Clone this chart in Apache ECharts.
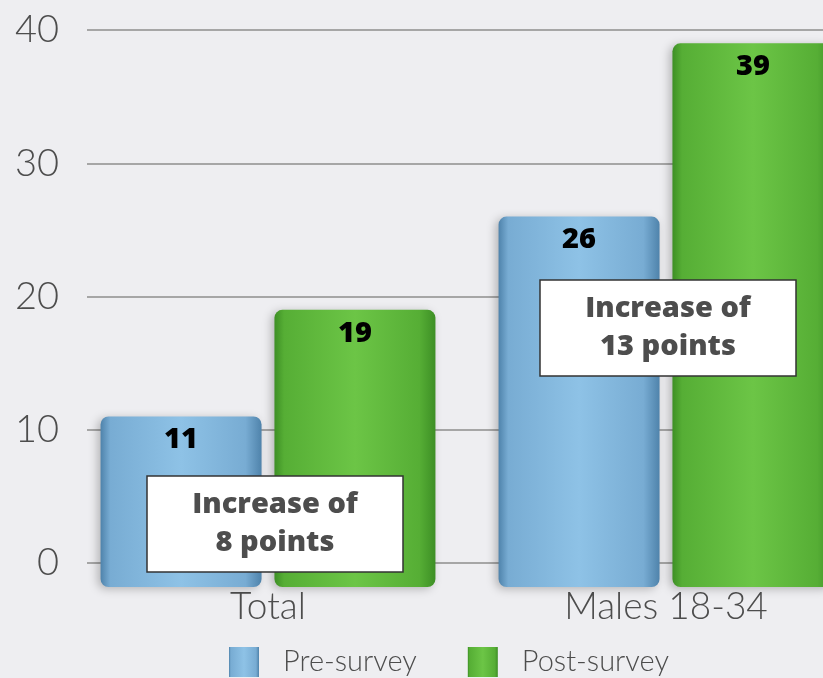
<!DOCTYPE html>
<html>
<head>
<meta charset="utf-8">
<title>Pre- vs post-survey</title>
<script src="https://cdn.jsdelivr.net/npm/echarts@6/dist/echarts.min.js"></script>
<style>
  html, body { margin: 0; padding: 0; background: #eeeef1; }
  #chart { width: 823px; height: 678px; }
</style>
</head>
<body>
<div id="chart"></div>
<script>
// Survey results by group
const categories = ['Total', 'Males 18-34'];
const preSurvey = [11, 26];
const postSurvey = [19, 39];
const yTicks = [0, 10, 20, 30, 40];
const seriesNames = ['Pre-survey', 'Post-survey'];

const chart = echarts.init(document.getElementById('chart'));

const FONT = 'Lato, "Open Sans", sans-serif';
const BOLD = '"Open Sans", Lato, sans-serif';
const TEXT_GREY = '#4d4d4d';

// bars sit on a plinth slightly below the zero line
const baseValue = -1.8;

function barFill(dark, mid, light) {
  return new echarts.graphic.LinearGradient(0, 0, 1, 0, [
    { offset: 0, color: dark },
    { offset: 0.06, color: mid },
    { offset: 0.5, color: light },
    { offset: 0.9, color: mid },
    { offset: 1, color: dark }
  ]);
}

const valueLabel = {
  show: true,
  position: 'insideTop',
  distance: 9,
  color: '#000',
  fontFamily: BOLD,
  fontWeight: 800,
  fontSize: 29
};

function noteBox(cx, cy, pre, post) {
  return {
    type: 'group',
    x: cx,
    y: cy,
    z: 100,
    children: [
      {
        type: 'rect',
        z: 100,
        shape: { x: -128, y: -48, width: 256, height: 96 },
        style: { fill: '#ffffff', stroke: '#333', lineWidth: 1.5 }
      },
      {
        type: 'text',
        z: 101,
        style: {
          x: 0,
          y: 0,
          text: 'Increase of\n' + (post - pre) + ' points',
          align: 'center',
          verticalAlign: 'middle',
          fontFamily: BOLD,
          fontWeight: 800,
          fontSize: 29,
          lineHeight: 38,
          fill: '#4d4d4d'
        }
      }
    ]
  };
}

chart.setOption({
  backgroundColor: '#eeeef1',
  animation: false,
  grid: [
    { left: 87, right: 0, top: 30, height: 533, outerBoundsMode: 'none' },
    { left: 69, width: 796, top: 30, height: 557, outerBoundsMode: 'none' }
  ],
  xAxis: [
    { gridIndex: 0, type: 'category', data: categories, show: false },
    {
      gridIndex: 1,
      type: 'category',
      data: categories,
      axisLine: { show: false },
      axisTick: { show: false },
      axisLabel: {
        margin: 2,
        color: TEXT_GREY,
        fontFamily: FONT,
        fontWeight: 300,
        fontSize: 37
      }
    }
  ],
  yAxis: [
    {
      gridIndex: 0,
      type: 'value',
      min: yTicks[0],
      max: yTicks[yTicks.length - 1],
      interval: 10,
      axisLine: { show: false },
      axisTick: { show: false },
      axisLabel: {
        margin: 28,
        color: TEXT_GREY,
        fontFamily: FONT,
        fontWeight: 300,
        fontSize: 38
      },
      splitLine: { lineStyle: { color: '#a6a6a6', width: 2 } }
    },
    {
      gridIndex: 1,
      type: 'value',
      min: baseValue,
      max: yTicks[yTicks.length - 1],
      startValue: baseValue,
      show: false,
      splitLine: { show: false }
    }
  ],
  legend: {
    left: 229,
    top: 647,
    padding: 0,
    itemWidth: 30,
    itemHeight: 30,
    itemGap: 51,
    icon: 'rect',
    textStyle: {
      color: TEXT_GREY,
      fontFamily: FONT,
      fontWeight: 300,
      fontSize: 29,
      padding: [0, 0, 0, 19]
    },
    data: seriesNames
  },
  series: [
    {
      name: seriesNames[0],
      type: 'bar',
      xAxisIndex: 1,
      yAxisIndex: 1,
      barWidth: 161,
      barGap: '8%',
      data: preSurvey,
      label: valueLabel,
      itemStyle: {
        color: barFill('#4f83ab', '#78acd3', '#8ec2e6'),
        borderRadius: 8,
        shadowBlur: 10,
        shadowColor: 'rgba(0,0,0,0.25)',
        shadowOffsetX: -3,
        shadowOffsetY: 2
      }
    },
    {
      name: seriesNames[1],
      type: 'bar',
      xAxisIndex: 1,
      yAxisIndex: 1,
      barWidth: 161,
      barGap: '8%',
      data: postSurvey,
      label: valueLabel,
      itemStyle: {
        color: barFill('#3d8f25', '#56ae35', '#6cc546'),
        borderRadius: 8,
        shadowBlur: 10,
        shadowColor: 'rgba(0,0,0,0.25)',
        shadowOffsetX: -3,
        shadowOffsetY: 2
      }
    }
  ],
  graphic: [
    noteBox(275, 524, preSurvey[0], postSurvey[0]),
    noteBox(668, 328, preSurvey[1], postSurvey[1])
  ]
});
</script>
</body>
</html>
